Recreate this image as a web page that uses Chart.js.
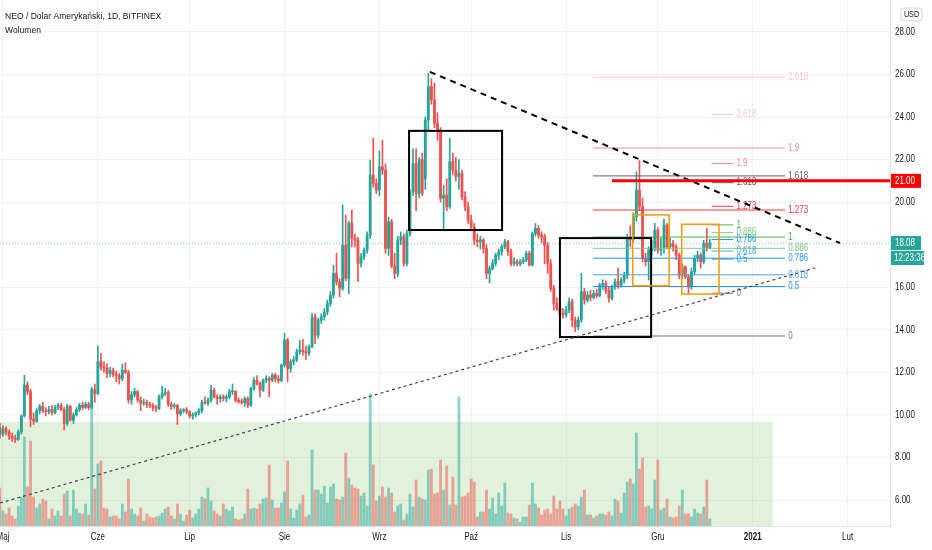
<!DOCTYPE html>
<html>
<head>
<meta charset="utf-8">
<script src="https://cdn.jsdelivr.net/npm/chart.js@4.4.1/dist/chart.umd.min.js"></script>
<style>
html,body{margin:0;padding:0;background:#fff;overflow:hidden;}
#wrap{width:932px;height:550px;position:relative;}
</style>
</head>
<body>
<div id="wrap"><canvas id="c"></canvas></div>
<script>
// ---- DATA (daily candles, day 0 = 1 May 2020) ----
const firstDay = -1;
const opens = [
9.40,9.10,9.35,9.20,9.00,8.90,8.85,9.20,9.95,11.40,
11.10,9.80,9.70,10.20,10.40,10.20,10.15,10.25,10.10,10.35,
10.45,10.25,9.60,10.40,9.75,10.00,10.25,10.45,10.35,10.50,
10.35,11.20,11.00,12.50,12.25,12.20,11.95,12.10,11.90,11.85,
11.70,12.10,12.00,10.70,10.95,11.10,10.70,10.55,10.60,10.50,
10.45,10.35,10.30,10.85,11.00,11.05,10.50,10.40,10.45,10.05,
10.20,10.25,10.15,9.95,10.00,10.10,10.20,10.60,10.55,10.70,
11.16,10.85,10.77,10.85,10.78,10.85,11.09,11.10,10.69,10.62,
10.58,10.77,10.46,11.24,11.63,11.48,11.16,11.63,11.71,11.63,
11.87,11.70,11.62,12.34,13.52,12.18,12.50,12.58,12.97,13.05,
12.97,12.90,13.20,14.61,13.75,14.46,14.61,14.84,15.24,15.63,
16.65,16.26,15.95,17.98,16.42,19.00,18.30,18.22,17.12,17.43,
17.75,18.45,21.27,20.88,20.57,21.66,21.50,17.82,19.08,17.00,
16.65,18.22,18.37,17.12,18.53,20.49,21.82,20.41,22.00,21.10,
23.86,25.43,24.80,23.70,23.30,20.18,20.33,19.78,21.90,21.50,
21.20,21.35,20.25,19.78,19.16,18.84,18.22,18.14,18.22,17.82,
16.65,16.88,17.12,17.51,17.67,17.90,18.14,17.67,17.12,17.20,
17.10,17.20,17.28,17.59,17.04,18.53,18.77,18.45,18.37,17.98,
17.12,15.94,15.24,15.00,14.77,14.70,14.93,15.32,14.46,14.14,
14.46,15.79,15.40,15.63,15.52,15.71,15.60,16.10,16.18,15.85,
15.48,16.02,16.26,16.10,16.34,16.57,18.30,18.25,19.31,20.57,
19.78,17.36,17.20,17.75,17.83,18.69,17.75,17.83,18.92,17.90,
18.06,17.90,17.51,16.57,16.96,16.49,16.02,16.73,17.36,17.51,
17.20,18.06,17.83];
const highs = [
9.60,9.50,9.45,9.30,9.15,9.05,9.30,10.00,11.87,11.55,
11.20,10.10,10.30,10.50,10.60,10.35,10.40,10.45,10.45,10.55,
10.55,10.35,10.50,10.45,10.10,10.35,10.55,10.60,10.60,10.60,
11.30,11.45,13.24,12.90,12.50,12.40,12.25,12.20,12.05,11.95,
12.40,12.45,12.10,11.10,11.25,11.15,10.85,10.75,10.70,10.60,
10.55,10.45,10.95,11.35,11.25,11.15,10.60,10.55,10.50,10.30,
10.30,10.35,10.20,10.10,10.15,10.30,10.70,10.85,10.80,11.40,
11.25,10.95,10.95,10.95,10.95,11.20,11.45,11.15,10.80,10.75,
10.85,10.85,11.30,11.75,11.85,11.55,11.70,11.85,11.80,11.95,
11.95,11.85,12.40,13.83,13.60,12.60,12.75,13.10,13.50,13.55,
13.25,13.30,14.77,14.75,14.55,14.75,15.00,15.40,15.80,17.04,
17.60,16.40,19.86,19.40,19.10,19.63,18.50,18.35,17.60,17.85,
18.60,21.98,23.00,21.10,22.40,22.90,21.80,19.30,19.20,17.60,
18.40,18.60,18.50,18.70,20.60,22.50,22.50,22.10,22.30,24.00,
26.05,25.80,25.60,24.20,23.50,20.80,21.10,23.00,22.30,22.10,
22.00,21.50,20.50,20.00,19.40,19.00,18.50,18.40,18.30,18.00,
17.00,17.30,17.60,17.80,18.00,18.25,18.20,17.80,17.40,17.30,
17.30,17.40,17.70,17.70,18.60,19.00,18.90,18.60,18.50,18.10,
17.30,16.10,15.50,15.20,15.00,15.10,15.50,15.45,14.60,14.60,
16.65,15.95,15.80,15.85,15.85,15.90,16.20,16.35,16.30,16.00,
16.10,16.40,16.90,16.45,16.70,18.50,18.90,19.50,21.43,21.95,
20.20,17.60,17.90,18.20,19.00,18.80,18.30,19.20,19.00,18.30,
18.20,18.00,17.60,17.10,17.00,16.60,16.90,17.50,17.70,17.60,
18.20,18.77,18.25];
const lows = [
8.90,9.00,9.05,8.85,8.75,8.70,8.80,9.10,9.90,10.95,
9.45,9.55,9.65,10.05,10.10,9.95,10.05,10.00,10.05,10.25,
10.20,9.30,9.50,9.70,9.60,9.95,10.15,10.25,10.30,10.25,
10.30,10.60,10.95,12.10,12.00,11.75,11.80,11.80,11.55,11.45,
11.60,11.95,10.55,10.50,10.85,10.60,10.20,10.45,10.35,10.35,
10.20,10.15,10.25,10.75,10.90,10.40,10.25,10.30,9.55,9.95,
10.10,10.05,9.85,9.80,9.90,10.00,10.10,10.50,10.45,10.60,
10.80,10.50,10.60,10.65,10.60,10.75,10.95,10.60,10.55,10.50,
10.40,10.35,10.40,11.15,11.40,10.85,11.10,11.50,10.85,11.55,
11.55,11.50,11.55,12.25,11.56,12.00,12.35,12.50,12.85,12.80,
12.60,12.80,13.15,13.35,13.60,14.30,14.45,14.70,15.10,15.50,
16.10,15.55,15.85,16.30,15.70,17.90,17.90,16.26,16.95,17.30,
17.60,18.30,20.70,20.40,20.30,21.30,17.60,17.50,16.90,16.40,
16.50,18.00,17.00,17.00,18.40,20.30,19.60,20.20,20.30,20.60,
23.40,24.60,23.50,22.90,20.00,18.69,19.60,19.70,21.30,21.00,
20.60,20.10,19.60,19.00,18.70,18.00,17.90,17.80,17.60,16.40,
16.20,16.80,17.00,17.30,17.50,17.80,17.50,17.00,17.00,17.00,
17.00,17.10,17.20,17.00,17.00,18.40,18.30,18.10,17.10,16.65,
15.80,14.93,14.90,14.60,14.55,14.60,14.80,14.15,13.91,14.00,
14.35,15.20,15.30,15.35,15.45,15.50,15.55,15.90,15.70,15.30,
15.40,15.90,15.95,16.00,16.20,16.40,17.90,18.10,19.10,19.60,
17.20,17.00,16.34,17.50,17.70,17.60,17.50,17.60,17.80,17.80,
17.70,17.30,16.40,16.40,16.40,15.68,15.90,16.60,17.20,16.90,
17.10,17.70,17.80];
const closes = [
9.10,9.35,9.20,9.00,8.90,8.85,9.20,9.95,11.40,11.10,
9.80,9.70,10.20,10.40,10.20,10.15,10.25,10.10,10.35,10.45,
10.25,9.60,10.40,9.75,10.00,10.25,10.45,10.35,10.50,10.35,
11.20,11.00,12.50,12.25,12.20,11.95,12.10,11.90,11.85,11.70,
12.10,12.00,10.70,10.95,11.10,10.70,10.55,10.60,10.50,10.45,
10.35,10.30,10.85,11.00,11.05,10.50,10.40,10.45,10.05,10.20,
10.25,10.15,9.95,10.00,10.10,10.20,10.60,10.55,10.70,11.16,
10.85,10.77,10.85,10.78,10.85,11.09,11.10,10.69,10.62,10.58,
10.77,10.46,11.24,11.63,11.48,11.16,11.63,11.71,11.63,11.87,
11.70,11.62,12.34,13.52,12.18,12.50,12.58,12.97,13.05,12.97,
12.90,13.20,14.61,13.75,14.46,14.61,14.84,15.24,15.63,16.65,
16.26,15.95,17.98,16.42,19.00,18.30,18.22,17.12,17.43,17.75,
18.45,21.27,20.88,20.57,21.66,21.50,17.82,19.08,17.00,16.65,
18.22,18.37,17.12,18.53,20.49,21.82,20.41,22.00,20.41,23.86,
25.43,24.80,23.70,23.30,20.18,20.33,19.78,21.90,21.50,21.20,
21.35,20.25,19.78,19.16,18.84,18.22,18.14,18.22,17.82,16.65,
16.88,17.12,17.51,17.67,17.90,18.14,17.67,17.12,17.20,17.10,
17.20,17.28,17.59,17.04,18.53,18.77,18.45,18.37,17.98,17.12,
15.94,15.24,15.00,14.77,14.70,14.93,15.32,14.46,14.14,14.46,
15.79,15.40,15.63,15.52,15.71,15.60,16.10,16.18,15.85,15.48,
16.02,16.26,16.10,16.34,16.57,18.30,18.25,19.31,20.57,19.78,
17.36,17.20,17.75,17.83,18.69,17.75,17.83,18.92,17.90,18.06,
17.90,17.51,16.57,16.96,16.49,16.02,16.73,17.36,17.51,17.20,
18.06,17.83,18.08];
const volumes = [
38,15,12,18,10,7,20,29,89,39,
85,29,18,22,27,25,7,17,10,15,
10,32,35,10,36,17,13,12,22,11,
120,37,62,65,18,17,9,10,10,7,
22,14,47,17,12,10,18,5,12,9,
8,9,10,13,17,19,10,7,22,12,
5,11,16,8,12,17,29,27,38,25,
15,12,10,22,17,15,19,7,6,7,
12,37,17,18,17,22,27,28,61,26,
18,18,23,34,65,17,8,16,22,31,
9,11,76,36,36,32,40,23,39,42,
27,26,29,73,48,41,38,37,30,33,
20,132,61,25,30,39,29,38,33,14,
20,22,6,12,32,19,46,29,27,26,
56,57,32,33,66,36,60,21,49,21,
129,29,30,33,47,44,9,14,14,36,
17,28,12,33,20,43,13,12,8,7,
4,9,9,21,43,22,18,11,16,17,
12,30,17,25,17,10,17,19,22,20,
29,36,11,11,8,10,12,12,11,14,
10,27,25,13,33,44,47,42,93,57,
68,19,20,17,46,66,16,18,27,9,
8,9,20,36,12,12,9,17,13,12,
19,46,7];

// time axis ticks (day index) and labels
const monthTickDays = [0,31,61,92,123,153,184,214,245,276];
const monthTickLabels = ['Maj','Cze','Lip','Sie','Wrz','Paź','Lis','Gru','2021','Lut'];
const priceTicks = [6,8,10,12,14,16,18,20,22,24,26,28];

// drawings (day index / price)
const fibLevels = [0,0.5,0.618,0.786,0.886,1,1.273,1.618,1.9,2.618];
const fibLabels = ['0','0.5','0.618','0.786','0.886','1','1.273','1.618','1.9','2.618'];
const fibColors = ['#787b86','#2196f3','#42a5f5','#2196f3','#81c784','#4caf50','#f23645','#5d606b','#f58a90','#fcc9cd'];
const fibA = {p0:13.71, p1:18.36, d0:192.8, d1:255.6};
const fibB = {p0:15.72, p1:18.93, d0:231.6, d1:238.7};
const trendLines = [
  {d1:139.5, p1:26.12, d2:273.5, p2:18.08, color:'#000000', width:2, dash:[6,5]},
  {d1:-0.98, p1:5.86, d2:265.4, p2:16.91, color:'#434651', width:1.2, dash:[3,3]}
];
const boxes = [
  {d1:132.7, d2:163.1, p1:23.35, p2:18.69, color:'#000000', width:2},
  {d1:182.0, d2:211.8, p1:18.31, p2:13.66, color:'#000000', width:2},
  {d1:205.8, d2:217.7, p1:19.40, p2:16.07, color:'#ff9800', width:1.5},
  {d1:221.8, d2:234.0, p1:18.96, p2:15.68, color:'#ff9800', width:1.5}
];
const volumeZone = {d1:-0.98, d2:251.6, top:9.67};
const redLevel = {price:21.00, d1:199.0};
const viewDays = {min:-0.98, max:289.87};
const viewPrice = {min:4.78, max:29.50};
const volAxisMax = 526;

// ---- build datasets ----
const UP = '#26a69a', DOWN = '#ef5350';
const dirUp = closes.map((c,i) => c >= opens[i]);
const candleColors = dirUp.map(u => u ? UP : DOWN);
const volColors = dirUp.map(u => u ? 'rgba(38,166,154,0.5)' : 'rgba(239,83,80,0.5)');
const bodyData = closes.map((c,i) => ({x: firstDay + i, y: [opens[i], c]}));
const wickData = closes.map((c,i) => ({x: firstDay + i, y: [lows[i], highs[i]]}));
const volData = volumes.map((v,i) => ({x: firstDay + i, y: v}));
const lastPrice = closes[closes.length - 1];

function drawText(ctx, s, x, y, o) {
  ctx.save();
  ctx.font = (o.weight || 'normal') + ' ' + (o.size || 10) + 'px "Liberation Sans", Arial, sans-serif';
  ctx.fillStyle = o.color || '#131722';
  ctx.textBaseline = 'middle';
  ctx.textAlign = 'left';
  const sx = o.sx || 0.8;
  const w = ctx.measureText(s).width * sx;
  let left = x;
  if (o.align === 'center') left = x - w / 2;
  else if (o.align === 'right') left = x - w;
  ctx.translate(left, y);
  ctx.scale(sx, 1);
  ctx.fillText(s, 0, 0);
  ctx.restore();
  return w;
}
function seg(ctx, x1, y1, x2, y2, color, width, dash) {
  ctx.save();
  ctx.strokeStyle = color; ctx.lineWidth = width;
  ctx.setLineDash(dash || []);
  ctx.beginPath(); ctx.moveTo(x1, y1); ctx.lineTo(x2, y2); ctx.stroke();
  ctx.restore();
}
function rrect(ctx, x, y, w, h, r) {
  ctx.beginPath();
  ctx.moveTo(x + r, y); ctx.lineTo(x + w - r, y); ctx.quadraticCurveTo(x + w, y, x + w, y + r);
  ctx.lineTo(x + w, y + h - r); ctx.quadraticCurveTo(x + w, y + h, x + w - r, y + h);
  ctx.lineTo(x + r, y + h); ctx.quadraticCurveTo(x, y + h, x, y + h - r);
  ctx.lineTo(x, y + r); ctx.quadraticCurveTo(x, y, x + r, y); ctx.closePath();
}

const drawings = {
  id: 'drawings',
  beforeDatasetsDraw(chart) {
    const {ctx, chartArea: a, scales: {x, y}} = chart;
    ctx.save();
    ctx.beginPath(); ctx.rect(a.left, a.top, a.right - a.left, a.bottom - a.top); ctx.clip();
    const zx1 = x.getPixelForValue(volumeZone.d1), zx2 = x.getPixelForValue(volumeZone.d2);
    const zy = y.getPixelForValue(volumeZone.top);
    ctx.fillStyle = 'rgba(120,190,90,0.22)';
    ctx.fillRect(zx1, zy, zx2 - zx1, a.bottom - zy);
    const ly = y.getPixelForValue(lastPrice);
    seg(ctx, a.left, ly, a.right, ly, 'rgba(38,166,154,0.55)', 1, [1, 2]);
    ctx.restore();
  },
  afterDatasetsDraw(chart) {
    const {ctx, chartArea: a, scales: {x, y}} = chart;
    ctx.save();
    ctx.beginPath(); ctx.rect(a.left, a.top, a.right - a.left, a.bottom - a.top); ctx.clip();
    // fib retracements
    [fibA, fibB].forEach(f => {
      const xa = x.getPixelForValue(f.d0), xb = x.getPixelForValue(f.d1);
      fibLevels.forEach((lv, k) => {
        const py = y.getPixelForValue(f.p0 + lv * (f.p1 - f.p0));
        seg(ctx, xa, py, xb, py, fibColors[k], 1);
        drawText(ctx, fibLabels[k], xb + 3, py, {size: 10, color: fibColors[k], sx: 0.8});
      });
    });
    // rectangles
    boxes.forEach(b => {
      const x1 = x.getPixelForValue(b.d1), x2 = x.getPixelForValue(b.d2);
      const y1 = y.getPixelForValue(b.p1), y2 = y.getPixelForValue(b.p2);
      ctx.save(); ctx.strokeStyle = b.color; ctx.lineWidth = b.width;
      ctx.strokeRect(x1, y1, x2 - x1, y2 - y1); ctx.restore();
    });
    // trend lines
    trendLines.forEach(t => seg(ctx, x.getPixelForValue(t.d1), y.getPixelForValue(t.p1),
      x.getPixelForValue(t.d2), y.getPixelForValue(t.p2), t.color, t.width, t.dash));
    // red horizontal level
    const ry = y.getPixelForValue(redLevel.price);
    seg(ctx, x.getPixelForValue(redLevel.d1), ry, a.right, ry, '#ff0000', 3);
    ctx.restore();

    // price axis labels
    priceTicks.forEach(p => drawText(ctx, p.toFixed(2), a.right + 5, y.getPixelForValue(p), {size: 10, sx: 0.8}));
    // time axis labels
    monthTickDays.forEach((d, i) => drawText(ctx, monthTickLabels[i], x.getPixelForValue(d), a.bottom + 11,
      {size: 10, sx: 0.8, align: 'center', weight: monthTickLabels[i] === '2021' ? 'bold' : 'normal'}));
    // red level axis box
    ctx.fillStyle = '#ff0000'; ctx.fillRect(a.right + 1, ry - 7, 30, 14);
    drawText(ctx, redLevel.price.toFixed(2), a.right + 5, ry, {size: 10, sx: 0.8, color: '#ffffff'});
    // last price box + countdown
    const ly = y.getPixelForValue(lastPrice);
    ctx.fillStyle = UP; ctx.fillRect(a.right + 1, ly - 7, 30, 14);
    drawText(ctx, lastPrice.toFixed(2), a.right + 5, ly, {size: 10, sx: 0.8, color: '#ffffff'});
    ctx.fillStyle = UP; ctx.fillRect(a.right + 1, ly + 8, 33, 14);
    drawText(ctx, '12:23:36', a.right + 4, ly + 15, {size: 10, sx: 0.8, color: '#ffffff'});
    // currency badge
    ctx.save(); rrect(ctx, a.right + 11, 8, 21, 13, 3);
    ctx.fillStyle = '#ffffff'; ctx.fill(); ctx.strokeStyle = '#d1d4dc'; ctx.lineWidth = 1; ctx.stroke(); ctx.restore();
    drawText(ctx, 'USD', a.right + 21.5, 14.5, {size: 9, sx: 0.8, align: 'center'});
    // legend
    drawText(ctx, 'NEO / Dolar Amerykański, 1D, BITFINEX', 5, 16, {size: 9.5, sx: 0.9});
    drawText(ctx, 'Wolumen', 5, 30.5, {size: 9.5, sx: 0.9});
  }
};

new Chart(document.getElementById('c'), {
  type: 'bar',
  data: {
    datasets: [
      {label: 'Wolumen', data: volData, yAxisID: 'yVol', backgroundColor: volColors,
       barThickness: 2.2, grouped: false, borderWidth: 0, order: 3},
      {label: 'wicks', data: wickData, yAxisID: 'y', backgroundColor: candleColors,
       barThickness: 1, grouped: false, borderWidth: 0, order: 2},
      {label: 'NEO/USD', data: bodyData, yAxisID: 'y', backgroundColor: candleColors,
       barThickness: 2.2, grouped: false, borderWidth: 0, minBarLength: 1, order: 1}
    ]
  },
  options: {
    animation: false, responsive: true, maintainAspectRatio: false, events: [],
    layout: {padding: 0},
    plugins: {legend: {display: false}, tooltip: {enabled: false}},
    scales: {
      x: {type: 'linear', min: viewDays.min, max: viewDays.max, offset: false, position: 'bottom',
          grid: {color: '#f0f1f4', offset: false, drawTicks: false},
          border: {display: true, color: '#e0e3eb'},
          ticks: {display: false},
          afterBuildTicks: s => { s.ticks = monthTickDays.map(v => ({value: v})); },
          afterFit: s => { s.height = 24; }},
      y: {type: 'linear', position: 'right', min: viewPrice.min, max: viewPrice.max,
          grid: {color: '#f0f1f4', drawTicks: false},
          border: {display: true, color: '#e0e3eb'},
          ticks: {display: false},
          afterBuildTicks: s => { s.ticks = priceTicks.map(v => ({value: v})); },
          afterFit: s => { s.width = 42; }},
      yVol: {type: 'linear', display: false, min: 0, max: volAxisMax}
    }
  },
  plugins: [drawings]
});
</script>
</body>
</html>
